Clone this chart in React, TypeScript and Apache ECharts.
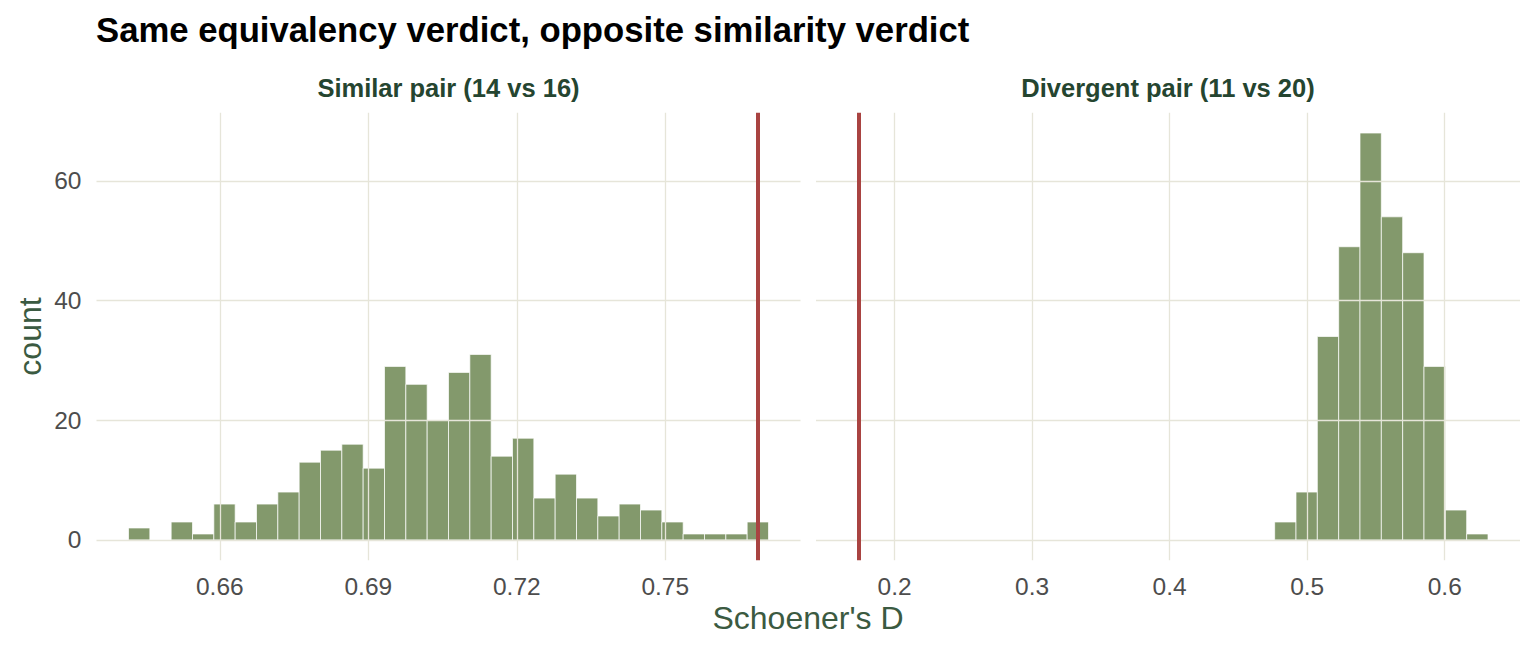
import React, { useEffect, useRef } from "react";
import * as echarts from "echarts";

// ---- data ----
const panelTitles = ["Similar pair (14 vs 16)", "Divergent pair (11 vs 20)"];
const leftCounts = [2, 0, 3, 1, 6, 3, 6, 8, 13, 15, 16, 12, 29, 26, 20, 28, 31, 14, 17, 7, 11, 7, 4, 6, 5, 3, 1, 1, 1, 3];
const rightCounts = [0, 0, 0, 0, 0, 0, 0, 0, 0, 0, 0, 0, 0, 0, 0, 0, 0, 0, 0, 0, 3, 8, 34, 49, 68, 54, 48, 29, 5, 1];
// first and last bin centres of each histogram (30 bins)
const leftBinCentres = [0.6437, 0.7687];
const rightBinCentres = [0.1739, 0.6237];
// observed Schoener's D (red reference line)
const leftObserved = 0.7687;
const rightObserved = 0.1739;
const leftTicks = [0.66, 0.69, 0.72, 0.75];
const rightTicks = [0.2, 0.3, 0.4, 0.5, 0.6];
const yTicks = [0, 20, 40, 60];

const FONT = "Liberation Sans, Arial, Helvetica, sans-serif";
const BAR = "#83996C";
const RED = "#A94341";
const GRIDC = "#E6E5D9";

function binsOf(counts: number[], centres: number[]) {
  const n = counts.length;
  const w = (centres[1] - centres[0]) / (n - 1);
  return counts.map((c, i) => {
    const mid = centres[0] + i * w;
    return [mid - w / 2, mid + w / 2, c];
  });
}

function expand(lo: number, hi: number) {
  const r = hi - lo;
  return [lo - 0.05 * r, hi + 0.05 * r];
}

export default function App() {
  const ref = useRef<HTMLDivElement>(null);
  useEffect(() => {
    if (!ref.current) return;
    const chart = echarts.init(ref.current, null, { renderer: "svg" });

    const lb = binsOf(leftCounts, leftBinCentres);
    const rb = binsOf(rightCounts, rightBinCentres);
    const lx = expand(lb[0][0], lb[lb.length - 1][1]);
    const rx = expand(rb[0][0], rb[rb.length - 1][1]);
    const ymaxCount = Math.max(...leftCounts, ...rightCounts);
    const yr = expand(0, ymaxCount);

    const gridTop = 112.7;
    const gridH = 447.6;
    const gridW = 704;
    const grids = [
      { left: 96.5, top: gridTop, width: gridW, height: gridH, outerBoundsMode: "none" },
      { left: 816, top: gridTop, width: gridW, height: gridH, outerBoundsMode: "none" },
    ];

    const xLabel = (dec: number, ticks: number[]) => ({
      customValues: ticks,
      formatter: (v: number) => v.toFixed(dec),
      fontSize: 24.5,
      color: "#4D4D4D",
      fontFamily: FONT,
      margin: 14,
    });

    const mkGrid = (idx: number, ticks: number[]) => ({
      type: "line",
      xAxisIndex: idx,
      yAxisIndex: idx,
      data: [],
      z: 1,
      silent: true,
      markLine: {
        silent: true,
        precision: 6,
        symbol: ["none", "none"],
        label: { show: false },
        emphasis: { disabled: true },
        lineStyle: { color: GRIDC, width: 1.3, type: "solid" },
        data: [...ticks.map((t) => ({ xAxis: t })), ...yTicks.map((t) => ({ yAxis: t }))],
      },
    });

    const mkBars = (idx: number, data: number[][]) => ({
      type: "custom",
      xAxisIndex: idx,
      yAxisIndex: idx,
      z: 2,
      silent: true,
      data,
      renderItem: (params: any, api: any) => {
        const x0 = api.value(0);
        const x1 = api.value(1);
        const c = api.value(2);
        const p0 = api.coord([x0, c]);
        const p1 = api.coord([x1, 0]);
        return {
          type: "rect",
          shape: { x: p0[0], y: p0[1], width: p1[0] - p0[0], height: p1[1] - p0[1] },
          style: { fill: BAR, stroke: "#FFFFFF", lineWidth: 0.7 },
        };
      },
    });

    const mkVline = (idx: number, v: number) => ({
      type: "line",
      xAxisIndex: idx,
      yAxisIndex: idx,
      data: [],
      z: 5,
      silent: true,
      markLine: {
        silent: true,
        precision: 6,
        symbol: ["none", "none"],
        label: { show: false },
        emphasis: { disabled: true },
        lineStyle: { color: RED, width: 4, type: "solid" },
        data: [{ xAxis: v }],
      },
    });

    const hiddenAxisBits = {
      axisLine: { show: false },
      axisTick: { show: false },
      splitLine: { show: false },
    };

    chart.setOption({
      animation: false,
      backgroundColor: "#FFFFFF",
      grid: grids,
      xAxis: [
        { gridIndex: 0, type: "value", min: lx[0], max: lx[1], ...hiddenAxisBits, axisLabel: xLabel(2, leftTicks) },
        { gridIndex: 1, type: "value", min: rx[0], max: rx[1], ...hiddenAxisBits, axisLabel: xLabel(1, rightTicks) },
      ],
      yAxis: [
        {
          gridIndex: 0,
          type: "value",
          min: yr[0],
          max: yr[1],
          ...hiddenAxisBits,
          axisLabel: {
            customValues: yTicks,
            formatter: (v: number) => String(Math.round(v)),
            fontSize: 24.5,
            color: "#4D4D4D",
            fontFamily: FONT,
            margin: 15,
          },
        },
        { gridIndex: 1, type: "value", min: yr[0], max: yr[1], ...hiddenAxisBits, axisLabel: { show: false } },
      ],
      series: [
        mkGrid(0, leftTicks),
        mkGrid(1, rightTicks),
        mkBars(0, lb),
        mkBars(1, rb),
        mkVline(0, leftObserved),
        mkVline(1, rightObserved),
      ],
      graphic: [
        {
          type: "text",
          x: 96,
          y: 30,
          style: {
            text: "Same equivalency verdict, opposite similarity verdict",
            font: `bold 34.7px ${FONT}`,
            fill: "#000000",
            verticalAlign: "middle",
            align: "left",
          },
        },
        {
          type: "text",
          x: 96.5 + gridW / 2,
          y: 88,
          style: {
            text: panelTitles[0],
            font: `bold 25.5px ${FONT}`,
            fill: "#254530",
            align: "center",
            verticalAlign: "middle",
          },
        },
        {
          type: "text",
          x: 816 + gridW / 2,
          y: 88,
          style: {
            text: panelTitles[1],
            font: `bold 25.5px ${FONT}`,
            fill: "#254530",
            align: "center",
            verticalAlign: "middle",
          },
        },
        {
          type: "text",
          x: 808,
          y: 618,
          style: {
            text: "Schoener's D",
            font: `32px ${FONT}`,
            fill: "#3B5A41",
            align: "center",
            verticalAlign: "middle",
          },
        },
        {
          type: "text",
          x: 30,
          y: gridTop + gridH / 2,
          rotation: Math.PI / 2,
          style: {
            text: "count",
            font: `32px ${FONT}`,
            fill: "#3B5A41",
            align: "center",
            verticalAlign: "middle",
          },
        },
      ],
    });
    return () => chart.dispose();
  }, []);
  return (
    <div
      ref={ref}
      style={{ position: "absolute", left: 0, top: 0, width: 1536, height: 652 }}
    />
  );
}
